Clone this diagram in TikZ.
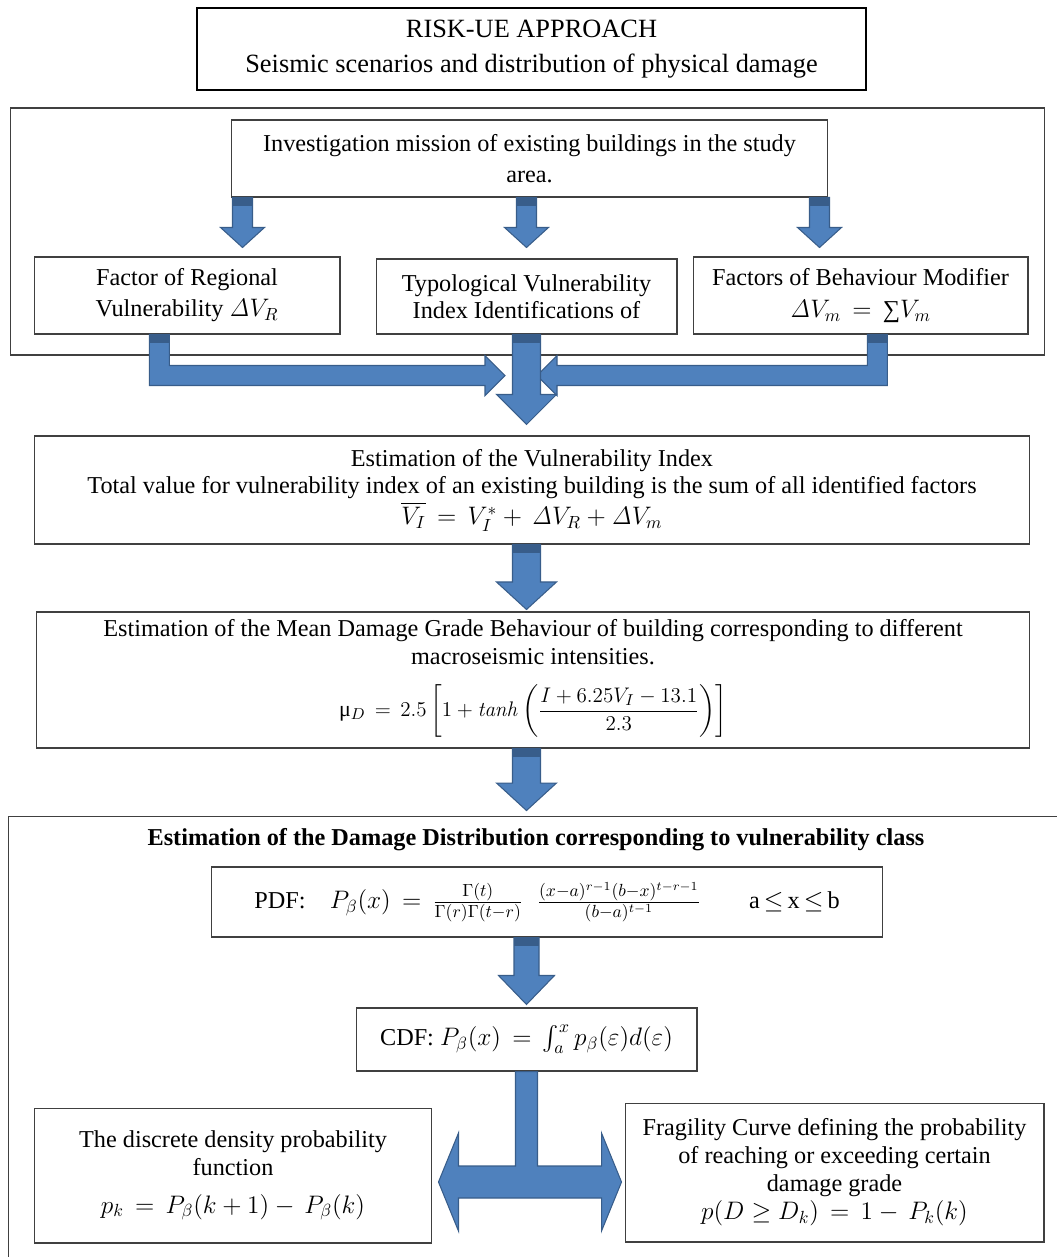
\documentclass[tikz,border=0pt]{standalone}
\usepackage{amsmath}
\usepackage{amssymb}
\usepackage[no-math]{fontspec}
\setmainfont{Liberation Serif}
\usepackage{tikz}
\usepackage{xcolor}
\usetikzlibrary{positioning, calc}

\definecolor{arrowblue}{HTML}{4F81BD}
\definecolor{arrowedge}{HTML}{385D8A}

\tikzset{
  box/.style={draw=black!75, line width=0.6pt, fill=white, align=center, inner sep=3pt,
    font=\fontsize{13.8}{15.6}\selectfont},
  titlebox/.style={box, draw=black, line width=1.3pt, font=\fontsize{15}{19.5}\selectfont},
  inner/.style={align=center, inner sep=1pt, font=\fontsize{13.8}{15.6}\selectfont},
  frame/.style={draw=black!75, line width=0.6pt},
  blockarrow/.style={fill=arrowblue, draw=arrowedge, line width=0.6pt, line join=miter},
}

% straight block arrow: start, tip, shaft half width, head half width, head length
\newcommand{\blkdown}[5]{%
  \filldraw[blockarrow] let \p1=(#1), \p2=(#2) in
    ({\x1-#3},\y1) -- ({\x1-#3},{\y2+#5}) -- ({\x1-#4},{\y2+#5}) -- (\x1,\y2)
    -- ({\x1+#4},{\y2+#5}) -- ({\x1+#3},{\y2+#5}) -- ({\x1+#3},\y1) -- cycle;
  \fill[arrowedge] let \p1=(#1) in ({\x1-#3},\y1) rectangle ({\x1+#3},{\y1-0.16cm});}
% bent block arrow: start, tip, direction (1 = to the right, -1 = to the left)
\newcommand{\blkbent}[3]{%
  \filldraw[blockarrow] let \p1=(#1), \p2=(#2) in
    ({\x1-(#3)*0.2cm},\y1) -- ({\x1-(#3)*0.2cm},{\y2-0.2cm}) -- ({\x2-(#3)*0.4cm},{\y2-0.2cm})
    -- ({\x2-(#3)*0.4cm},{\y2-0.4cm}) -- (\x2,\y2) -- ({\x2-(#3)*0.4cm},{\y2+0.4cm})
    -- ({\x2-(#3)*0.4cm},{\y2+0.2cm}) -- ({\x1+(#3)*0.2cm},{\y2+0.2cm}) -- ({\x1+(#3)*0.2cm},\y1) -- cycle;
  \fill[arrowedge] let \p1=(#1) in ({\x1-0.2cm},\y1) rectangle ({\x1+0.2cm},{\y1-0.16cm});}

\begin{document}
\begin{tikzpicture}[x=0.02cm, y=-0.02cm]
\useasboundingbox (0,0) rectangle (1056,1257);

% Header
\node[titlebox, minimum width=13.38cm, minimum height=1.64cm] (title) at (531.5,49)
  {RISK-UE APPROACH\\Seismic scenarios and distribution of physical damage};

% Survey of the buildings
\node[frame, minimum width=20.7cm, minimum height=4.94cm] (survey) at (527.5,231.5) {};
\node[box, minimum width=11.94cm, minimum height=1.54cm, font=\fontsize{13.8}{18}\selectfont] (inv) at (529.5,158.5)
  {Investigation mission of existing buildings in the study\\area.};
\node[box, minimum width=6.12cm, minimum height=1.54cm] (regl) at (187,295.5)
  {Factor of Regional\\[2pt]Vulnerability $\mathit{\Delta} V_R$};
\node[box, minimum width=6.02cm, minimum height=1.5cm] (typo) at (526.5,296.5)
  {Typological Vulnerability\\Index Identifications of};
\node[box, minimum width=6.7cm, minimum height=1.54cm] (beh) at (860.5,295.5)
  {Factors of Behaviour Modifier\\[3pt]$\mathit{\Delta} V_m\,=\,\text{∑}V_m$};

% Vulnerability index and mean damage grade
\node[box, minimum width=19.92cm, minimum height=2.16cm] (vi) at (532,490)
  {Estimation of the Vulnerability Index\\
   Total value for vulnerability index of an existing building is the sum of all identified factors\\[2pt]
   $\overline{V_I}\,=\,V_I^{*}+\,\mathit{\Delta} V_R+\mathit{\Delta} V_m$};
\node[box, minimum width=19.88cm, minimum height=2.72cm] (md) at (533,680) {};
\node[inner] (mdtxt) at (533,642)
  {Estimation of the Mean Damage Grade Behaviour of building corresponding to different\\
   macroseismic intensities.};
\node[inner, font=\fontsize{12.5}{15}\selectfont] (mdeq) at (533,711)
  {μ$_D\,=\,2.5\left[1+\mathit{tanh}\left(\dfrac{I+6.25V_I-13.1}{2.3}\right)\right]$};

% Damage distribution
\node[frame, minimum width=21cm, minimum height=8.96cm] (dmg) at (533,1040) {};
\node[font=\bfseries\fontsize{13.8}{15.6}\selectfont] (dmgtitle) at (536,840)
  {Estimation of the Damage Distribution corresponding to vulnerability class};
\node[box, minimum width=13.44cm, minimum height=1.4cm] (pdf) at (547,902)
  {PDF:\quad $P_\beta(x)\,=\,\frac{\Gamma(t)}{\Gamma(r)\Gamma(t-r)}\;\;\frac{(x-a)^{r-1}(b-x)^{t-r-1}}{(b-a)^{t-1}}$\qquad a\,$\leq$\,x\,$\leq$\,b};
\node[box, minimum width=6.82cm, minimum height=1.26cm] (cdf) at (526.5,1039.5)
  {CDF: $P_\beta(x)\,=\,\int_a^x p_\beta(\varepsilon)d(\varepsilon)$};
\node[box, minimum width=7.96cm, minimum height=2.7cm] (ddp) at (233,1175.5)
  {The discrete density probability\\function\\[6pt]$p_k\,=\,P_\beta(k+1)-\,P_\beta(k)$};
\node[box, minimum width=8.38cm, minimum height=2.78cm, font=\fontsize{13.8}{15.9}\selectfont] (frag) at (834.5,1172.5)
  {Fragility Curve defining the probability\\of reaching or exceeding certain\\damage grade\\
   $p(D\geq D_k)\,=\,1-\,P_k(k)$};

% Arrows of the survey
\coordinate (hub) at ($(typo.south)+(-1.5,41)$);
\blkbent{$(regl.south west)!0.41!(regl.south east)$}{$(hub)+(-20,0)$}{1}
\blkbent{$(beh.south west)!0.55!(beh.south east)$}{$(hub)+(12,0)$}{-1}
\blkdown{$(inv.south west)!0.02!(inv.south east)$}{$(regl.north)+(0,-9)$}{0.2cm}{0.44cm}{0.4cm}
\blkdown{inv.south -| typo.north}{$(typo.north)+(0,-11)$}{0.2cm}{0.44cm}{0.4cm}
\blkdown{$(inv.south west)!0.985!(inv.south east)$}{$(beh.north)+(0,-9)$}{0.2cm}{0.44cm}{0.4cm}
\blkdown{typo.south}{$(vi.north)+(0,-11)$}{0.28cm}{0.6cm}{0.6cm}

% Arrows down the chain
\blkdown{vi.south -| typo.south}{$(md.north)+(0,-2)$}{0.28cm}{0.6cm}{0.55cm}
\blkdown{md.south -| typo.south}{$(md.south)+(0,62)$}{0.28cm}{0.6cm}{0.55cm}
\blkdown{pdf.south -| cdf.north}{$(cdf.north)+(0,-3)$}{0.25cm}{0.56cm}{0.58cm}

% Split towards the two results
\coordinate (ltip) at ($(ddp.east)+(6,6.5)$);
\coordinate (rtip) at ($(frag.west)+(-3,9.5)$);
\filldraw[blockarrow] let \p1=(cdf.south), \p2=(ltip), \p3=(rtip) in
  ({\x1-0.22cm},\y1) -- ({\x1-0.22cm},{\y2+0.32cm}) -- ({\x2+0.4cm},{\y2+0.32cm})
  -- ({\x2+0.4cm},{\y2+0.98cm}) -- (\x2,\y2) -- ({\x2+0.4cm},{\y2-0.98cm})
  -- ({\x2+0.4cm},{\y2-0.32cm}) -- ({\x3-0.4cm},{\y2-0.32cm}) -- ({\x3-0.4cm},{\y2-0.98cm})
  -- (\x3,\y2) -- ({\x3-0.4cm},{\y2+0.98cm}) -- ({\x3-0.4cm},{\y2+0.32cm})
  -- ({\x1+0.22cm},{\y2+0.32cm}) -- ({\x1+0.22cm},\y1) -- cycle;
\end{tikzpicture}
\end{document}
